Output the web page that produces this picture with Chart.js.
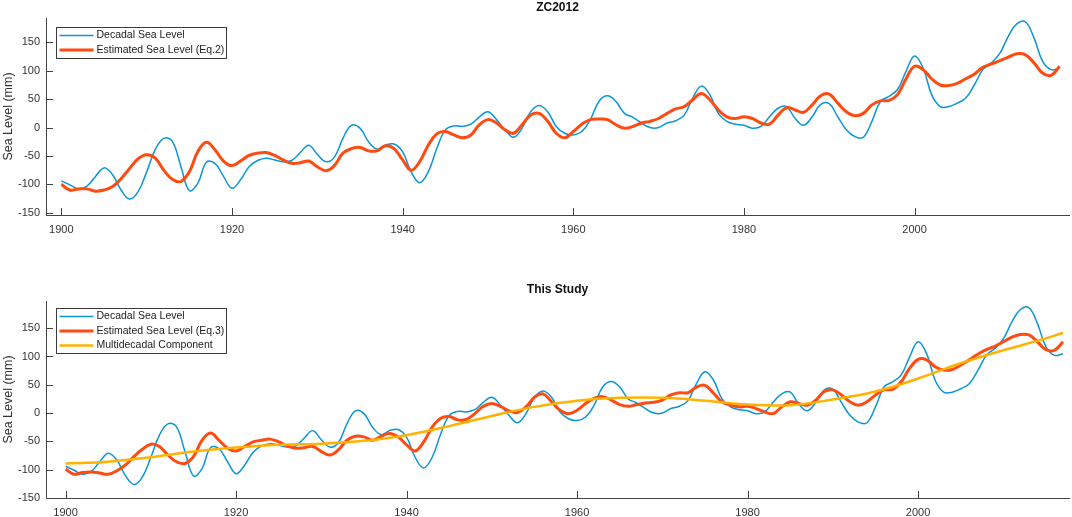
<!DOCTYPE html>
<html>
<head>
<meta charset="utf-8">
<script src="https://cdn.jsdelivr.net/npm/chart.js@4.4.1/dist/chart.umd.min.js"></script>
<style>
html, body { margin: 0; padding: 0; background: #fff; }
#top { position: absolute; left: 0; top: 0; width: 1072px; height: 258px; }
#bottom { position: absolute; left: 0; top: 258px; width: 1072px; height: 259px; }
</style>
</head>
<body>
<div id="top"><canvas id="chartTop"></canvas></div>
<div id="bottom"><canvas id="chartBottom"></canvas></div>
<script>
// years of the decadal series
const years = [
  1900, 1901, 1902, 1903, 1904, 1905, 1906, 1907, 1908, 1909,
  1910, 1911, 1912, 1913, 1914, 1915, 1916, 1917, 1918, 1919,
  1920, 1921, 1922, 1923, 1924, 1925, 1926, 1927, 1928, 1929,
  1930, 1931, 1932, 1933, 1934, 1935, 1936, 1937, 1938, 1939,
  1940, 1941, 1942, 1943, 1944, 1945, 1946, 1947, 1948, 1949,
  1950, 1951, 1952, 1953, 1954, 1955, 1956, 1957, 1958, 1959,
  1960, 1961, 1962, 1963, 1964, 1965, 1966, 1967, 1968, 1969,
  1970, 1971, 1972, 1973, 1974, 1975, 1976, 1977, 1978, 1979,
  1980, 1981, 1982, 1983, 1984, 1985, 1986, 1987, 1988, 1989,
  1990, 1991, 1992, 1993, 1994, 1995, 1996, 1997, 1998, 1999,
  2000, 2001, 2002, 2003, 2004, 2005, 2006, 2007, 2008, 2009,
  2010, 2011, 2012, 2013, 2014, 2015, 2016, 2017
]

const decadal = [
  -94, -101, -108, -103, -86, -71, -83, -110, -126, -113,
  -78, -39, -19, -24, -68, -111, -98, -61, -63, -86,
  -107, -92, -69, -58, -54, -57, -60, -58, -44, -31,
  -47, -60, -52, -19, 4, -1, -25, -38, -31, -29,
  -43, -78, -97, -78, -37, -4, 3, 2, 6, 19,
  28, 14, -4, -17, -1, 28, 39, 28, 2, -10,
  -13, -7, 14, 46, 56, 46, 25, 18, 8, 0,
  0, 8, 12, 22, 52, 73, 58, 25, 11, 6,
  4, -1, 2, 19, 34, 37, 16, 4, 19, 41,
  42, 19, -4, -16, -17, 11, 46, 55, 67, 99,
  126, 105, 58, 37, 37, 43, 52, 75, 102, 114,
  131, 161, 183, 186, 158, 117, 102, 105
]

const estimatedEq2 = [
  -100, -110, -108, -108, -112, -110, -104, -90, -72, -55,
  -48, -54, -75, -91, -95, -78, -42, -26, -39, -59,
  -67, -59, -49, -45, -44, -49, -57, -63, -62, -59,
  -69, -76, -67, -45, -37, -35, -41, -41, -32, -37,
  -57, -75, -60, -31, -11, -7, -13, -18, -13, 5,
  14, 8, -4, -10, 5, 22, 25, 11, -10, -18,
  -7, 6, 14, 15, 14, 5, -1, 2, 8, 11,
  16, 25, 33, 37, 49, 60, 49, 31, 19, 16,
  19, 16, 8, 6, 22, 35, 31, 27, 40, 56,
  59, 43, 28, 21, 25, 40, 47, 48, 58, 86,
  108, 102, 86, 75, 74, 78, 86, 94, 106, 112,
  118, 124, 130, 128, 114, 96, 92, 108
]

const estimatedEq3 = [
  -99, -108, -105, -104, -106, -108, -102, -92, -77, -64,
  -55, -59, -74, -86, -89, -77, -48, -35, -48, -62,
  -67, -59, -51, -48, -46, -51, -58, -62, -61, -59,
  -68, -74, -65, -48, -41, -42, -48, -41, -36, -42,
  -56, -67, -51, -25, -9, -6, -12, -11, -1, 12,
  17, 12, 4, 1, 11, 28, 34, 20, 5, -1,
  5, 17, 26, 29, 23, 15, 12, 15, 18, 19,
  23, 32, 36, 36, 46, 49, 35, 20, 14, 11,
  12, 8, 2, -1, 11, 20, 17, 14, 23, 38,
  41, 32, 20, 14, 20, 32, 41, 42, 55, 79,
  95, 94, 82, 76, 77, 85, 94, 104, 112, 118,
  126, 134, 139, 138, 126, 112, 111, 126
]

// multidecadal component, read every five years
const multiYears = [
  1900, 1905, 1910, 1915, 1920, 1925, 1930, 1935, 1940, 1945,
  1950, 1955, 1960, 1965, 1970, 1975, 1980, 1985, 1990, 1995,
  2000, 2005, 2010, 2015, 2017
]
const multidecadal = [
  -89, -86, -78, -68, -61, -56, -54, -49, -39, -23,
  -5, 11, 22, 27, 27, 22, 15, 14, 24, 38,
  61, 88, 111, 132, 142
]

const xTicks = [1900, 1920, 1940, 1960, 1980, 2000]
const yTicks = [-150, -100, -50, 0, 50, 100, 150]

const axisColor = '#454545'
const tickColor = '#333333'
const fontFamily = '"Liberation Sans", Arial, Helvetica, sans-serif'

function points(xs, ys) {
  return xs.map((x, i) => ({ x: x, y: ys[i] }))
}

// MATLAB-ish axes: inward ticks, title over the plot area, boxed legend top-left
const matlabAxes = {
  id: 'matlabAxes',
  afterDraw(chart, args, opts) {
    const ctx = chart.ctx
    const a = chart.chartArea
    const x = chart.scales.x
    const y = chart.scales.y
    ctx.save()
    ctx.strokeStyle = axisColor
    ctx.lineWidth = 1
    ctx.beginPath()
    x.ticks.forEach(t => {
      const px = Math.round(x.getPixelForValue(t.value)) + 0.5
      ctx.moveTo(px, a.bottom)
      ctx.lineTo(px, a.bottom - 7)
    })
    y.ticks.forEach(t => {
      const py = Math.round(y.getPixelForValue(t.value)) + 0.5
      ctx.moveTo(a.left, py)
      ctx.lineTo(a.left + 7, py)
    })
    ctx.stroke()

    ctx.fillStyle = '#111'
    ctx.font = 'bold 12px ' + fontFamily
    ctx.textAlign = 'center'
    ctx.textBaseline = 'middle'
    ctx.fillText(opts.title, (a.left + a.right) / 2, opts.titleY)

    const sets = chart.data.datasets
    const bx = Math.round(a.left + 10) + 0.5
    const by = Math.round(a.top + opts.legendTop) + 0.5
    const bw = 170
    const rowH = 14.5
    const bh = Math.round(sets.length * rowH + 1.5)
    ctx.fillStyle = '#fff'
    ctx.fillRect(bx, by, bw, bh)
    ctx.strokeStyle = '#3a3a3a'
    ctx.lineWidth = 1
    ctx.strokeRect(bx, by, bw, bh)
    ctx.font = '10.5px ' + fontFamily
    ctx.textAlign = 'left'
    sets.forEach((ds, i) => {
      const ry = by + 8 + i * rowH
      ctx.strokeStyle = ds.borderColor
      ctx.lineWidth = ds.borderWidth
      ctx.beginPath()
      ctx.moveTo(bx + 3, ry)
      ctx.lineTo(bx + 37, ry)
      ctx.stroke()
      ctx.fillStyle = '#222'
      ctx.fillText(ds.label, bx + 40, ry)
    })
    ctx.restore()
  }
}

function panelOptions(p) {
  return {
    responsive: true,
    maintainAspectRatio: false,
    animation: false,
    layout: { padding: { top: p.padTop, left: 0, right: 3, bottom: p.padBottom } },
    elements: { point: { radius: 0 }, line: { tension: 0.4 } },
    plugins: {
      legend: { display: false },
      tooltip: { enabled: false },
      matlabAxes: { title: p.title, titleY: p.titleY, legendTop: p.legendTop }
    },
    scales: {
      x: {
        type: 'linear',
        min: p.xMin,
        max: p.xMax,
        afterBuildTicks: s => { s.ticks = xTicks.map(v => ({ value: v })) },
        afterFit: s => { s.height = 18 },
        grid: { display: true, drawOnChartArea: false, drawTicks: false },
        border: { color: axisColor, width: 1 },
        ticks: {
          padding: 8, color: tickColor, autoSkip: false, maxRotation: 0,
          font: { family: fontFamily, size: 11 },
          callback: v => String(v)
        }
      },
      y: {
        type: 'linear',
        min: p.yMin,
        max: p.yMax,
        afterBuildTicks: s => { s.ticks = yTicks.map(v => ({ value: v })) },
        afterFit: s => { s.width = 46 },
        grid: { display: true, drawOnChartArea: false, drawTicks: false },
        border: { color: axisColor, width: 1 },
        ticks: {
          padding: 6, color: tickColor,
          font: { family: fontFamily, size: 11 },
          callback: v => String(v)
        },
        title: {
          display: true, text: 'Sea Level (mm)', color: '#333',
          padding: { top: 1, bottom: 0 },
          font: { family: fontFamily, size: 12.5 }
        }
      }
    }
  }
}

const blue = '#0a96d6'
const red = '#ff4a10'
const yellow = '#ffb200'

new Chart(document.getElementById('chartTop'), {
  type: 'line',
  data: {
    datasets: [
      { label: 'Decadal Sea Level', data: points(years, decadal), borderColor: blue, borderWidth: 1.5, order: 3 },
      { label: 'Estimated Sea Level (Eq.2)', data: points(years, estimatedEq2), borderColor: red, borderWidth: 3, order: 2 }
    ]
  },
  options: panelOptions({
    xMin: 1898.2, xMax: 2018.1, yMin: -154, yMax: 193,
    padTop: 18, padBottom: 25, title: 'ZC2012', titleY: 7.5, legendTop: 8.7
  }),
  plugins: [matlabAxes]
})

new Chart(document.getElementById('chartBottom'), {
  type: 'line',
  data: {
    datasets: [
      { label: 'Decadal Sea Level', data: points(years, decadal), borderColor: blue, borderWidth: 1.5, order: 3 },
      { label: 'Estimated Sea Level (Eq.3)', data: points(years, estimatedEq3), borderColor: red, borderWidth: 3, order: 2 },
      { label: 'Multidecadal Component', data: points(multiYears, multidecadal), borderColor: yellow, borderWidth: 2.5, order: 1 }
    ]
  },
  options: panelOptions({
    xMin: 1897.7, xMax: 2017.7, yMin: -150, yMax: 198,
    padTop: 43, padBottom: 1, title: 'This Study', titleY: 32, legendTop: 7.3
  }),
  plugins: [matlabAxes]
})
</script>
</body>
</html>
